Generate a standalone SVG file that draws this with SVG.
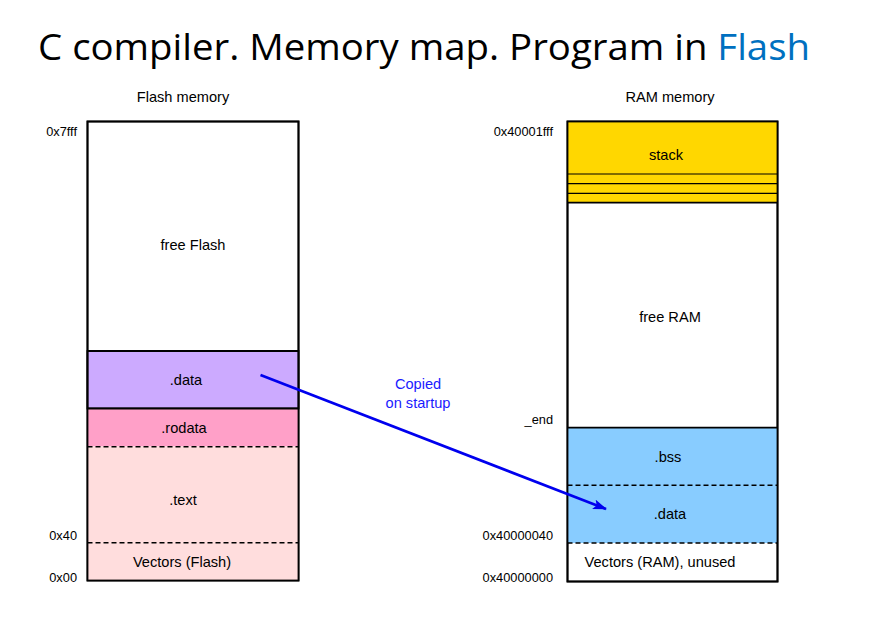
<svg xmlns="http://www.w3.org/2000/svg" width="872" height="630" viewBox="0 0 872 630">
<defs>
<style>
.t{font-family:"Liberation Sans",Arial,sans-serif;font-size:14.6px;fill:#000}
.a{font-size:12.8px}
.c{text-anchor:middle}
.r{text-anchor:end}
.box{stroke:#000;stroke-width:1.8}
.dash{stroke:#000;stroke-width:1.5;stroke-dasharray:5,3;fill:none}
.ln{stroke:#000;stroke-width:1.2;fill:none}
</style>
<marker id="ah" markerWidth="14" markerHeight="10" refX="13" refY="5" orient="auto" markerUnits="userSpaceOnUse" viewBox="0 0 14 10">
<path d="M0,0 L14,5 L0,10 L3,5 Z" fill="#0000ee"/>
</marker>
</defs>
<rect width="872" height="630" fill="#fff"/>
<text x="38" y="60" font-family="'Open Sans','Noto Sans',sans-serif" font-size="36" textLength="772" lengthAdjust="spacingAndGlyphs" fill="#000">C compiler. Memory map. Program in <tspan fill="#0070C0">Flash</tspan></text>

<text class="t c" x="183" y="102">Flash memory</text>
<text class="t c" x="670" y="102">RAM memory</text>

<g id="flash">
<rect class="box" x="87.5" y="121.5" width="211" height="459" fill="#fff"/>
<rect class="box" x="87.5" y="351" width="211" height="57.5" fill="#CCAAFF"/>
<rect x="87.5" y="408.5" width="211" height="38" fill="#FFA0C8"/>
<rect x="87.5" y="446.5" width="211" height="134" fill="#FFDDDD"/>
<line class="dash" x1="87.5" y1="446.7" x2="298.5" y2="446.7"/>
<line class="dash" x1="87.5" y1="542.7" x2="298.5" y2="542.7"/>
<rect class="box" x="87.5" y="121.5" width="211" height="459" fill="none"/>
<line class="box" x1="87.5" y1="408.5" x2="298.5" y2="408.5"/>
<line class="box" x1="87.5" y1="351" x2="298.5" y2="351"/>
<text class="t c" x="193" y="250">free Flash</text>
<text class="t c" x="186" y="385">.data</text>
<text class="t c" x="184" y="433">.rodata</text>
<text class="t c" x="183" y="505">.text</text>
<text class="t c" x="182" y="567">Vectors (Flash)</text>
<text class="t a r" x="77" y="136">0x7fff</text>
<text class="t a r" x="77" y="540">0x40</text>
<text class="t a r" x="77" y="582">0x00</text>
</g>

<g id="ram">
<rect class="box" x="567.5" y="121.5" width="210" height="460" fill="#fff"/>
<rect x="567.5" y="121.5" width="210" height="81" fill="#FFD700"/>
<rect x="567.5" y="427.7" width="210" height="115.3" fill="#88CCFF"/>
<line class="ln" x1="567.5" y1="174" x2="777.5" y2="174"/>
<line class="ln" x1="567.5" y1="183.7" x2="777.5" y2="183.7"/>
<line class="ln" x1="567.5" y1="193.3" x2="777.5" y2="193.3"/>
<line class="box" x1="567.5" y1="202.7" x2="777.5" y2="202.7"/>
<line class="box" x1="567.5" y1="427.7" x2="777.5" y2="427.7"/>
<line class="dash" x1="567.5" y1="485.3" x2="777.5" y2="485.3"/>
<line class="dash" x1="567.5" y1="543" x2="777.5" y2="543"/>
<rect class="box" x="567.5" y="121.5" width="210" height="460" fill="none"/>
<text class="t c" x="666" y="160">stack</text>
<text class="t c" x="670" y="322">free RAM</text>
<text class="t c" x="668" y="462">.bss</text>
<text class="t c" x="670" y="519">.data</text>
<text class="t c" x="660" y="567">Vectors (RAM), unused</text>
<text class="t a r" x="553" y="136">0x40001fff</text>
<text class="t a r" x="553" y="424">_end</text>
<text class="t a r" x="553" y="540">0x40000040</text>
<text class="t a r" x="553" y="582">0x40000000</text>
</g>

<g id="connectors">
<line x1="260.5" y1="375" x2="606" y2="509" stroke="#0000ee" stroke-width="2.6" marker-end="url(#ah)"/>
<text class="t c" x="418" y="389" style="fill:#1a1aff">Copied</text>
<text class="t c" x="418" y="408" style="fill:#1a1aff">on startup</text>
</g>
</svg>
